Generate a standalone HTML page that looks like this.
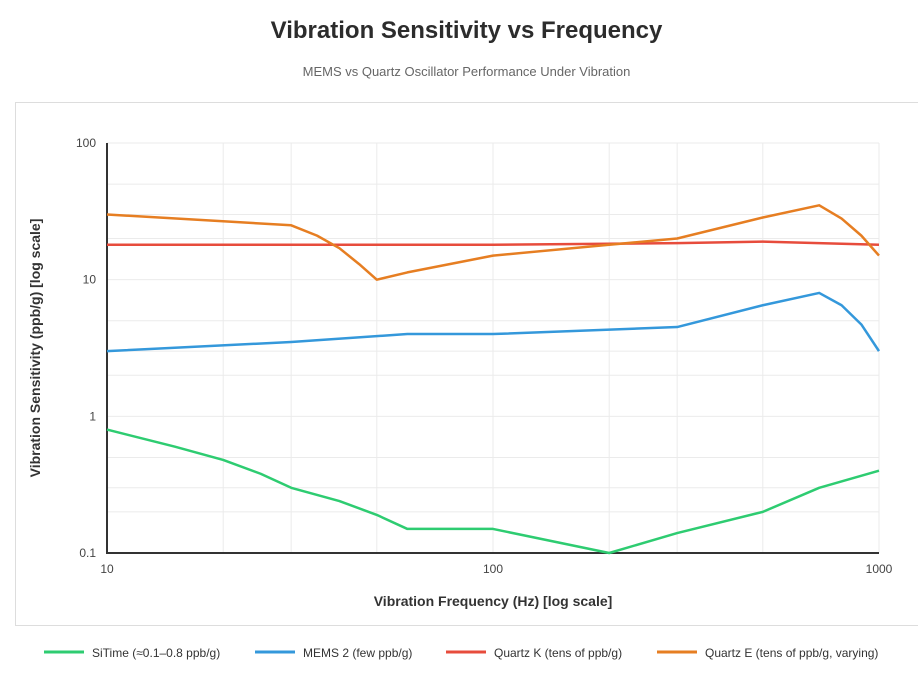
<!DOCTYPE html>
<html><head><meta charset="utf-8"><style>
body{margin:0;background:#fff;font-family:"Liberation Sans",sans-serif;width:918px;height:680px;overflow:hidden;position:relative}
#title{position:absolute;top:17px;left:0;width:933px;text-align:center;font-size:24px;font-weight:bold;color:#2c2c2c}
#sub{position:absolute;top:64px;left:0;width:933px;text-align:center;font-size:13px;color:#666}
#box{position:absolute;left:15px;top:102px;width:910px;height:522px;border:1px solid #ddd}
svg{position:absolute;left:0;top:0}
</style></head><body>
<div id="title">Vibration Sensitivity vs Frequency</div>
<div id="sub">MEMS vs Quartz Oscillator Performance Under Vibration</div>
<div id="box"></div>
<svg id="c" width="918" height="680"></svg>
<script>
const siX=[10,15,20,25,30,40,50,60,100,200,300,500,700,1000];
const siY=[0.8,0.6,0.48,0.38,0.3,0.24,0.19,0.15,0.15,0.1,0.14,0.2,0.3,0.4];
const memsX=[10,30,60,100,300,500,700,800,900,1000];
const memsY=[3,3.5,4,4,4.5,6.5,8,6.5,4.7,3];
const qkX=[10,100,300,500,1000];
const qkY=[18,18,18.5,19,18];
const qeX=[10,30,35,40,45,50,60,100,200,300,500,700,800,900,1000];
const qeY=[30,25,21,17,13,10,11.3,15,18,20,28.5,35,28,21,15];
const xTicks=[10,100,1000];
const yTicks=[0.1,1,10,100];
const xGrid=[10,20,30,50,100,200,300,500,1000];
const yGrid=[0.1,0.2,0.3,0.5,1,2,3,5,10,20,30,50,100];
const series=[
 {name:'SiTime (≈0.1–0.8 ppb/g)',x:siX,y:siY,c:'#2ecc71',id:'sitime'},
 {name:'MEMS 2 (few ppb/g)',x:memsX,y:memsY,c:'#3498db',id:'mems2'},
 {name:'Quartz K (tens of ppb/g)',x:qkX,y:qkY,c:'#e74c3c',id:'quartz-k'},
 {name:'Quartz E (tens of ppb/g, varying)',x:qeX,y:qeY,c:'#e67e22',id:'quartz-e'}];
const L=107,R=879,T=143,B=553;
const sx=v=>L+(Math.log10(v)-1)/2*(R-L);
const sy=v=>B-(Math.log10(v)+1)/3*(B-T);
const svg=document.getElementById('c');const NS='http://www.w3.org/2000/svg';
function mk(t,a,p){const e=document.createElementNS(NS,t);for(const k in a)e.setAttribute(k,a[k]);(p||svg).appendChild(e);return e;}
xGrid.forEach(v=>{const e=mk('line',{x1:sx(v),x2:sx(v),y1:T,y2:B,stroke:'#ebebeb'});

});
yGrid.forEach(v=>{const e=mk('line',{x1:L,x2:R,y1:sy(v),y2:sy(v),stroke:'#ebebeb'});

});
let a=mk('line',{x1:L,x2:L,y1:T,y2:B,stroke:'#333','stroke-width':2});


a=mk('line',{x1:L-1,x2:R,y1:B,y2:B,stroke:'#333','stroke-width':2});


xTicks.forEach(v=>{const t=mk('text',{x:sx(v),y:B+20,'text-anchor':'middle','font-size':12,fill:'#444'});t.textContent=v;

});
yTicks.forEach(v=>{const t=mk('text',{x:L-11,y:sy(v)+4,'text-anchor':'end','font-size':12,fill:'#444'});t.textContent=v;

});
let t=mk('text',{x:(L+R)/2,y:606,'text-anchor':'middle','font-size':14,'font-weight':'bold',fill:'#333'});t.textContent='Vibration Frequency (Hz) [log scale]';


t=mk('text',{x:0,y:0,'text-anchor':'middle','font-size':14,'font-weight':'bold',fill:'#333',transform:`translate(40,${(T+B)/2}) rotate(-90)`});t.textContent='Vibration Sensitivity (ppb/g) [log scale]';


series.forEach(s=>{const p=mk('polyline',{points:s.x.map((v,i)=>sx(v)+','+sy(s.y[i])).join(' '),fill:'none',stroke:s.c,'stroke-width':2.5,'stroke-linejoin':'round'});

});
const lx=[44,255,446,657];
series.forEach((s,i)=>{const g=mk('g',{});


mk('line',{x1:lx[i],x2:lx[i]+40,y1:652,y2:652,stroke:s.c,'stroke-width':3},g);
const tt=mk('text',{x:lx[i]+48,y:657,'font-size':12,fill:'#333'},g);tt.textContent=s.name;});
</script>
</body></html>
